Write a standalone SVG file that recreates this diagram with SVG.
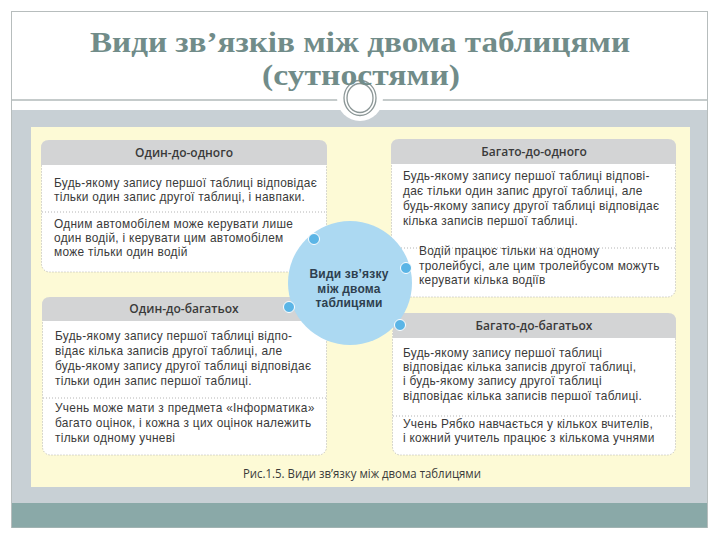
<svg xmlns="http://www.w3.org/2000/svg" width="720" height="540" viewBox="0 0 720 540">
<defs>
<style>
.title{font-family:"Liberation Serif","DejaVu Serif",serif;font-weight:bold;font-size:29.5px;fill:#718c89;text-anchor:middle}
.hdr{fill:#d3d4d5}
.body{fill:#ffffff;stroke:#b4b4b4;stroke-width:1;stroke-dasharray:1 2}
.div{stroke:#b4b4b4;stroke-width:1;stroke-dasharray:1 2;fill:none}
.ht{font-family:"Open Sans","Noto Sans",sans-serif;font-weight:600;font-size:12px;fill:#3a3a3a;text-anchor:middle}
.bt{font-family:"Liberation Sans","Arimo",sans-serif;font-size:11.9px;letter-spacing:0.28px;fill:#3a3a3a}
.ct{font-family:"Liberation Sans","Arimo",sans-serif;font-weight:bold;font-size:12px;letter-spacing:0.2px;fill:#2e3f4f;text-anchor:middle}
.dot{fill:#5bb5e6;stroke:#ffffff;stroke-width:1}
.cap{font-family:"Open Sans","Noto Sans",sans-serif;font-size:12.5px;fill:#3a3a3a}
</style>
</defs>
<rect x="0" y="0" width="720" height="540" fill="#ffffff"/>
<g id="frame">
<rect x="11.5" y="11.5" width="696" height="516" fill="#ffffff" stroke="#b7bdbd" stroke-width="1"/>
<rect x="12" y="110" width="695" height="393" fill="#c8d0d5"/>
<rect x="12" y="503" width="695" height="24.5" fill="#8aa9a8"/>
<line x1="12" y1="100" x2="707" y2="100" stroke="#8c9797" stroke-width="1.2"/>
<circle cx="360" cy="98" r="23" fill="#ffffff"/>
<ellipse cx="360" cy="98" rx="16" ry="17.5" fill="#ffffff" stroke="#8c9797" stroke-width="1.3"/>
<ellipse cx="360" cy="98" rx="13" ry="14.5" fill="none" stroke="#8c9797" stroke-width="1.3"/>
</g>
<g id="title">
<text class="title" x="360" y="52" textLength="540" lengthAdjust="spacingAndGlyphs">Види зв’язків між двома таблицями</text>
<text class="title" x="361" y="85" textLength="198" lengthAdjust="spacingAndGlyphs">(сутностями)</text>
</g>
<rect id="panel" x="31" y="127" width="659" height="360" fill="#fdfad6"/>
<g id="connectors"></g>
<g id="one-to-one">
<rect class="body" x="41.5" y="152" width="285" height="120" rx="8"/>
<path class="hdr" d="M41 165 V148 Q41 140 49 140 H319 Q327 140 327 148 V165 Z"/>
<text class="ht" x="184" y="157">Один-до-одного</text>
<line class="div" x1="42" y1="212" x2="326" y2="212"/>
<text class="bt" x="54" y="187">Будь-якому запису першої таблиці відповідає</text>
<text class="bt" x="54" y="201">тільки один запис другої таблиці, і навпаки.</text>
<text class="bt" x="54" y="228">Одним автомобілем може керувати лише</text>
<text class="bt" x="54" y="242">один водій, і керувати цим автомобілем</text>
<text class="bt" x="54" y="256">може тільки один водій</text>
</g>
<g id="many-to-one">
<rect class="body" x="391.5" y="152" width="284" height="145" rx="8"/>
<path class="hdr" d="M391 164 V147 Q391 139 399 139 H668 Q676 139 676 147 V164 Z"/>
<text class="ht" x="534" y="156">Багато-до-одного</text>
<line class="div" x1="392" y1="248" x2="675" y2="248"/>
<text class="bt" x="403" y="180">Будь-якому запису першої таблиці відпові-</text>
<text class="bt" x="403" y="195">дає тільки один запис другої таблиці, але</text>
<text class="bt" x="403" y="210">будь-якому запису другої таблиці відповідає</text>
<text class="bt" x="403" y="224.5">кілька записів першої таблиці.</text>
<text class="bt" x="419" y="255">Водій працює тільки на одному</text>
<text class="bt" x="419" y="269.5">тролейбусі, але цим тролейбусом можуть</text>
<text class="bt" x="419" y="283.5">керувати кілька водіїв</text>
</g>
<g id="one-to-many">
<rect class="body" x="42.5" y="308" width="284" height="147" rx="8"/>
<path class="hdr" d="M42 321 V305 Q42 297 50 297 H319 Q327 297 327 305 V321 Z"/>
<text class="ht" x="184" y="313">Один-до-багатьох</text>
<line class="div" x1="43" y1="398" x2="326" y2="398"/>
<text class="bt" x="55" y="340">Будь-якому запису першої таблиці відпо-</text>
<text class="bt" x="55" y="355">відає кілька записів другої таблиці, але</text>
<text class="bt" x="55" y="370">будь-якому запису другої таблиці відповідає</text>
<text class="bt" x="55" y="385">тільки один запис першої таблиці.</text>
<text class="bt" x="55" y="412">Учень може мати з предмета «Інформатика»</text>
<text class="bt" x="55" y="427">багато оцінок, і кожна з цих оцінок належить</text>
<text class="bt" x="55" y="442">тільки одному учневі</text>
</g>
<g id="many-to-many">
<rect class="body" x="392.5" y="325" width="283" height="130" rx="8"/>
<path class="hdr" d="M393 338 V321 Q393 313 401 313 H668 Q676 313 676 321 V338 Z"/>
<text class="ht" x="534" y="330">Багато-до-багатьох</text>
<line class="div" x1="393" y1="416" x2="675" y2="416"/>
<text class="bt" x="403" y="357">Будь-якому запису першої таблиці</text>
<text class="bt" x="403" y="371">відповідає кілька записів другої таблиці,</text>
<text class="bt" x="403" y="385">і будь-якому запису другої таблиці</text>
<text class="bt" x="403" y="399.5">відповідає кілька записів першої таблиці.</text>
<text class="bt" x="403" y="428">Учень Рябко навчається у кількох вчителів,</text>
<text class="bt" x="403" y="442">і кожний учитель працює з кількома учнями</text>
</g>
<g id="center">
<circle cx="350" cy="283" r="62" fill="#acd9f2"/>
<text class="ct" x="349" y="278">Види зв’язку</text>
<text class="ct" x="349" y="293">між двома</text>
<text class="ct" x="349" y="307">таблицями</text>
<circle class="dot" cx="314" cy="239" r="5.5"/>
<circle class="dot" cx="406" cy="268" r="5.5"/>
<circle class="dot" cx="289" cy="307" r="5.5"/>
<circle class="dot" cx="400" cy="325" r="5.5"/>
</g>
<text id="caption" class="cap" x="243" y="478" textLength="238" lengthAdjust="spacingAndGlyphs">Рис.1.5. Види зв’язку між двома таблицями</text>
</svg>
